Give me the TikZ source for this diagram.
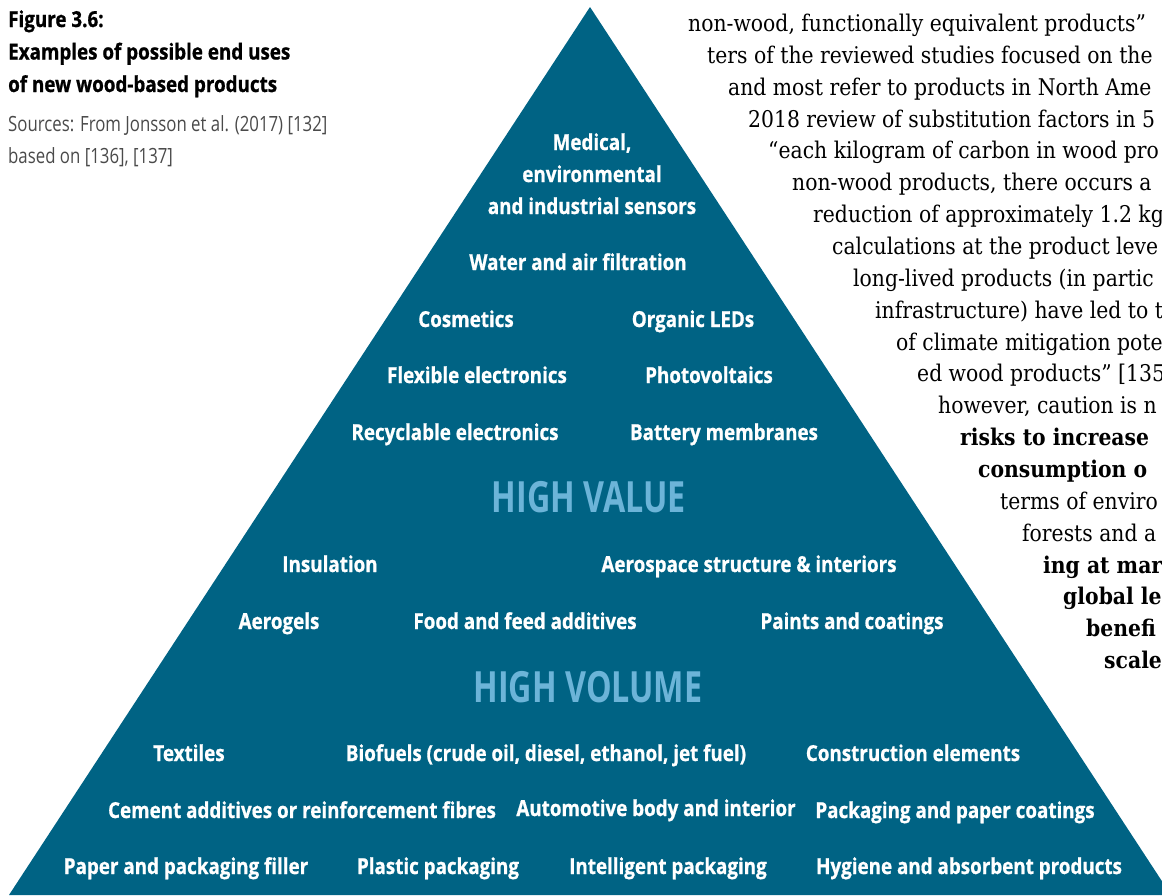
\documentclass[tikz,border=0pt]{standalone}
\usepackage{fontspec}
\setmainfont{Open Sans}
\newfontfamily\labfont[FakeStretch=0.855,BoldFeatures={FakeBold=0.8}]{Open Sans}
\newfontfamily\srcfont[FakeStretch=0.8]{Open Sans}
\newfontfamily\hvfont[FakeStretch=0.75]{Open Sans}
\newfontfamily\bodyfont[FakeStretch=0.885]{DejaVu Serif}
\definecolor{pyrteal}{HTML}{006384}
\definecolor{pyrlight}{HTML}{6CB4D8}
\definecolor{srcgray}{HTML}{4A4A4A}
\begin{document}
\begin{tikzpicture}[x=1pt,y=-1pt,
  lab/.style={font=\labfont\bfseries\fontsize{22}{26}\selectfont, text=white, inner sep=0pt, anchor=base},
  hv/.style={font=\hvfont\bfseries\fontsize{43}{50}\selectfont, text=pyrlight, inner sep=0pt, anchor=base},
  ttl/.style={font=\labfont\bfseries\fontsize{22}{26}\selectfont, text=black, inner sep=0pt, anchor=base west},
  src/.style={font=\srcfont\fontsize{21}{26}\selectfont, text=srcgray, inner sep=0pt, anchor=base west},
  body/.style={font=\bodyfont\fontsize{23}{26}\selectfont, text=black, inner sep=0pt, anchor=base west},
  bodyb/.style={body, font=\bodyfont\bfseries\fontsize{23}{26}\selectfont}]
\useasboundingbox (0,0) rectangle (1162,895);
% pyramid
\fill[pyrteal] (590,7) -- (9,895) -- (1171,895) -- cycle;
% title
\node[ttl] (t1) at (8,27) {Figure 3.6:};
\node[ttl] (t2) at (8,59.5) {Examples of possible end uses};
\node[ttl] (t3) at (8,92) {of new wood-based products};
\node[src] (s1) at (8,131.5) {Sources: From Jonsson et al. (2017) [132]};
\node[src] (s2) at (8,163) {based on [136], [137]};
% high value
\node[lab] (m1) at (592,150) {Medical,};
\node[lab] (m2) at (592,182) {environmental};
\node[lab] (m3) at (592,214) {and industrial sensors};
\node[lab] (wa) at (578,270) {Water and air filtration};
\node[lab] (co) at (466,327) {Cosmetics};
\node[lab] (ol) at (693,327) {Organic LEDs};
\node[lab] (fe) at (477,383) {Flexible electronics};
\node[lab] (pv) at (709,383) {Photovoltaics};
\node[lab] (re) at (455,440) {Recyclable electronics};
\node[lab] (bm) at (724,440) {Battery membranes};
\node[hv] (hval) at (589,512) {HIGH VALUE};
% middle
\node[lab] (in) at (330,572) {Insulation};
\node[lab] (ae) at (749,572) {Aerospace structure \& interiors};
\node[lab] (ag) at (279,629) {Aerogels};
\node[lab] (ff) at (525,629) {Food and feed additives};
\node[lab] (pc) at (852,629) {Paints and coatings};
\node[hv] (hvol) at (588,702) {HIGH VOLUME};
% high volume
\node[lab] (tx) at (189,761) {Textiles};
\node[lab] (bf) at (546,761) {Biofuels (crude oil, diesel, ethanol, jet fuel)};
\node[lab] (ce) at (913,761) {Construction elements};
\node[lab] (cm) at (302,818) {Cement additives or reinforcement fibres};
\node[lab] (au) at (656,816) {Automotive body and interior};
\node[lab] (pp) at (955,818) {Packaging and paper coatings};
\node[lab] (pf) at (186,874) {Paper and packaging filler};
\node[lab] (pl) at (438,874) {Plastic packaging};
\node[lab] (ip) at (668,874) {Intelligent packaging};
\node[lab] (hy) at (969,874) {Hygiene and absorbent products};
% body text beside the pyramid
\node[body] (b1) at (688,31.5) {non-wood, functionally equivalent products”};
\node[body] (b2) at (707,63.4) {ters of the reviewed studies focused on the};
\node[body] (b3) at (728,95.2) {and most refer to products in North Ame};
\node[body] (b4) at (748,127.1) {2018 review of substitution factors in 5};
\node[body] (b5) at (768,158.9) {“each kilogram of carbon in wood pro};
\node[body] (b6) at (792,190.8) {non-wood products, there occurs a};
\node[body] (b7) at (813,222.6) {reduction of approximately 1.2 kg};
\node[body] (b8) at (832,254.5) {calculations at the product leve};
\node[body] (b9) at (853,286.3) {long-lived products (in partic};
\node[body] (b10) at (875,318.2) {infrastructure) have led to t};
\node[body] (b11) at (896,350) {of climate mitigation pote};
\node[body] (b12) at (917,381.9) {ed wood products” [135};
\node[body] (b13) at (938,413.7) {however, caution is n};
\node[bodyb] (b14) at (960,445.6) {risks to increase};
\node[bodyb] (b15) at (978,477.4) {consumption o};
\node[body] (b16) at (1000,509.3) {terms of enviro};
\node[body] (b17) at (1022,541.1) {forests and a};
\node[bodyb] (b18) at (1043,573) {ing at mar};
\node[bodyb] (b19) at (1063,604.8) {global le};
\node[bodyb] (b20) at (1086,636.7) {benefi};
\node[bodyb] (b21) at (1104,668.5) {scale};
\end{tikzpicture}
\end{document}
